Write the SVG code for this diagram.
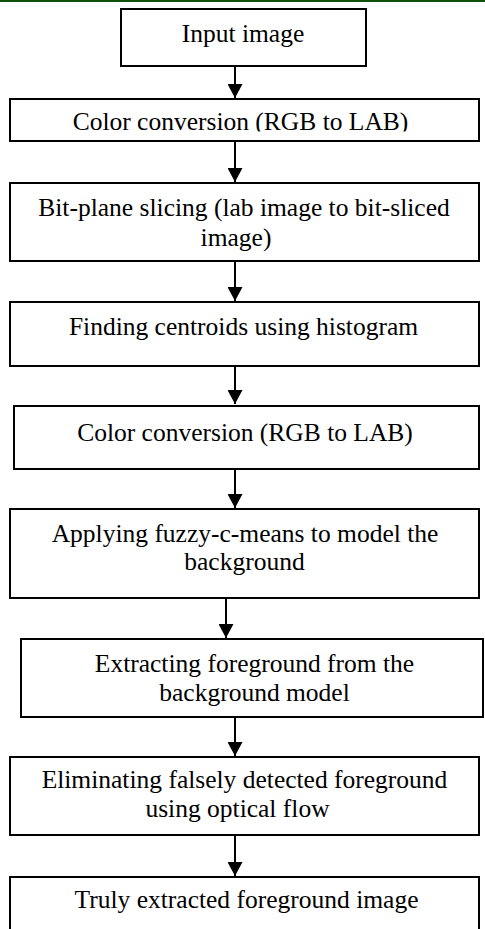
<svg xmlns="http://www.w3.org/2000/svg" width="485" height="929" viewBox="0 0 485 929">
  <style>
    .box { fill: #ffffff; stroke: #000000; stroke-width: 2; }
    .lbl { font-family: "Liberation Serif", "Times New Roman", serif; font-size: 25.5px; fill: #000000; text-anchor: middle; }
    .conn { stroke: #000000; stroke-width: 2; fill: none; marker-end: url(#arrow); }
  </style>
  <defs>
    <marker id="arrow" markerUnits="userSpaceOnUse" markerWidth="14" markerHeight="15" refX="14" refY="7.5" orient="auto" viewBox="0 0 14 15">
      <path d="M0,0 L14,7.5 L0,15 Z" fill="#000000"/>
    </marker>
    <clipPath id="clip-b2">
      <rect x="10" y="99" width="469" height="32.5"/>
    </clipPath>
  </defs>

  <rect x="0" y="0" width="485" height="929" fill="#ffffff"/>
  <!-- page rule along the top edge -->
  <rect x="0" y="0" width="485" height="2" fill="#0b4f0b"/>

  <g id="connectors">
    <line class="conn" x1="235" y1="66" x2="235" y2="98"/>
    <line class="conn" x1="235" y1="141" x2="235" y2="182"/>
    <line class="conn" x1="235" y1="261" x2="235" y2="301"/>
    <line class="conn" x1="235" y1="366" x2="235" y2="404"/>
    <line class="conn" x1="235" y1="469" x2="235" y2="508"/>
    <line class="conn" x1="226" y1="598" x2="226" y2="638"/>
    <line class="conn" x1="235" y1="717" x2="235" y2="756"/>
    <line class="conn" x1="235" y1="835" x2="235" y2="876"/>
  </g>

  <g id="input-image">
    <rect class="box" x="121" y="9" width="245" height="57"/>
    <text class="lbl" x="243" y="42">Input image</text>
  </g>

  <g id="color-conversion-1">
    <rect class="box" x="10" y="99" width="469" height="42"/>
    <text class="lbl" x="240.5" y="130" clip-path="url(#clip-b2)">Color conversion (RGB to LAB)</text>
  </g>

  <g id="bit-plane-slicing">
    <rect class="box" x="10" y="183" width="469" height="78"/>
    <text class="lbl" x="244" y="216">Bit-plane slicing (lab image to bit-sliced</text>
    <text class="lbl" x="236" y="246">image)</text>
  </g>

  <g id="finding-centroids">
    <rect class="box" x="10" y="302" width="469" height="64"/>
    <text class="lbl" x="243.5" y="335">Finding centroids using histogram</text>
  </g>

  <g id="color-conversion-2">
    <rect class="box" x="14" y="406" width="465" height="63"/>
    <text class="lbl" x="245" y="441">Color conversion (RGB to LAB)</text>
  </g>

  <g id="fuzzy-c-means">
    <rect class="box" x="10" y="509" width="469" height="89"/>
    <text class="lbl" x="245" y="542">Applying fuzzy-c-means to model the</text>
    <text class="lbl" x="244.5" y="570">background</text>
  </g>

  <g id="extract-foreground">
    <rect class="box" x="21" y="639" width="462" height="78"/>
    <text class="lbl" x="254.5" y="672">Extracting foreground from the</text>
    <text class="lbl" x="254.5" y="701">background model</text>
  </g>

  <g id="eliminate-false">
    <rect class="box" x="10" y="757" width="469" height="78"/>
    <text class="lbl" x="244.5" y="788">Eliminating falsely detected foreground</text>
    <text class="lbl" x="237.5" y="817">using optical flow</text>
  </g>

  <g id="final-foreground">
    <rect class="box" x="10" y="877" width="469" height="60"/>
    <text class="lbl" x="246.5" y="908">Truly extracted foreground image</text>
  </g>
</svg>
